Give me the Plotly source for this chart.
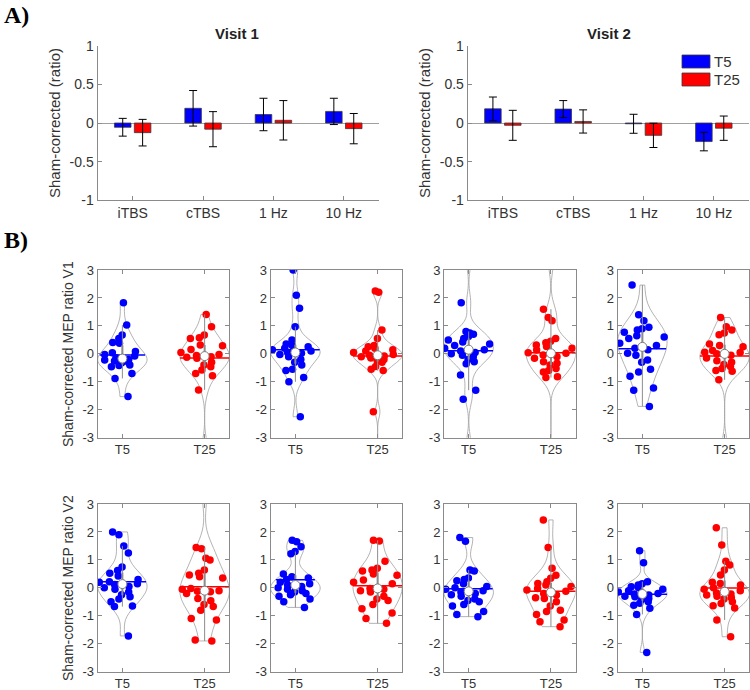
import numpy as np
import plotly.graph_objects as go

W, H = 750, 690

# ---------------- Panel A data (bar means and error bars) ----------------
methods = ["iTBS", "cTBS", "1 Hz", "10 Hz"]
v1_t5_mean = [-0.055, 0.19, 0.11, 0.15]
v1_t5_err = [0.115, 0.23, 0.21, 0.17]
v1_t25_mean = [-0.125, -0.08, 0.035, -0.073]
v1_t25_err = [0.172, 0.227, 0.255, 0.196]
v2_t5_mean = [0.183, 0.18, -0.01, -0.24]
v2_t5_err = [0.153, 0.11, 0.123, 0.12]
v2_t25_mean = [-0.03, 0.02, -0.16, -0.067]
v2_t25_err = [0.194, 0.15, 0.157, 0.157]

# ---------------- Panel B data (individual sham-corrected ratios) ----------------
# (a few values lie outside the visible -3..3 range; only their violin tails show)
v1_itbs_t5 = [1.83, 1.03, 0.67, 0.55, 0.41, 0.38, 0.08, 0.04, -0.02, -0.08, -0.14,
              -0.2, -0.22, -0.26, -0.3, -0.32, -0.4, -0.42, -0.46, -0.7, -0.88, -1.53]
v1_itbs_t25 = [1.41, 0.97, 0.67, 0.58, 0.55, 0.32, 0.29, 0.16, 0.05, -0.02, -0.06,
               -0.1, -0.12, -0.16, -0.3, -0.4, -0.46, -0.58, -0.7, -0.78, -1.29, -3.3]
v1_ctbs_t5 = [3.0, 2.1, 1.63, 0.97, 0.5, 0.35, 0.3, 0.25, 0.2, 0.15, 0.1, 0.05, 0.02,
              -0.02, -0.1, -0.2, -0.3, -0.4, -0.55, -0.6, -0.85, -1.0, -2.25]
v1_ctbs_t25 = [2.25, 2.2, 0.85, 0.55, 0.3, 0.25, 0.2, 0.15, 0.1, 0.05, -0.02, -0.05,
               -0.08, -0.1, -0.15, -0.2, -0.25, -0.3, -0.45, -0.55, -0.6, -2.07, -3.9]
v1_1hz_t5 = [3.3, 1.83, 0.8, 0.75, 0.7, 0.62, 0.55, 0.5, 0.42, 0.35, 0.3, 0.2, 0.15, 0.1,
             0.05, 0.0, -0.05, -0.1, -0.2, -0.28, -0.35, -0.76, -1.3, -1.62, -3.2]
v1_1hz_t25 = [3.2, 1.6, 1.3, 1.18, 0.55, 0.45, 0.4, 0.32, 0.26, 0.2, 0.14, 0.04, 0.02,
              -0.04, -0.1, -0.16, -0.28, -0.34, -0.4, -0.52, -0.6, -0.65, -0.82, -0.85, -4.0]
v1_10hz_t5 = [2.46, 1.4, 1.18, 0.95, 0.9, 0.85, 0.77, 0.65, 0.6, 0.55, 0.38, 0.3, 0.2,
              0.15, 0.02, -0.05, -0.22, -0.3, -0.55, -0.65, -0.8, -1.22, -1.3, -1.88]
v1_10hz_t25 = [1.3, 0.97, 0.85, 0.75, 0.68, 0.35, 0.3, 0.25, 0.12, 0.06, 0.05, 0.0,
               -0.05, -0.15, -0.25, -0.3, -0.38, -0.45, -0.52, -0.6, -0.62, -0.93, -3.2]

v2_itbs_t5 = [2.0, 1.9, 1.5, 1.25, 0.75, 0.62, 0.52, 0.42, 0.3, 0.22, 0.2, 0.15, 0.12,
              0.05, 0.0, -0.05, -0.15, -0.25, -0.32, -0.4, -0.5, -0.65, -0.67, -1.72]
v2_itbs_t25 = [3.3, 1.44, 1.4, 1.06, 1.0, 0.64, 0.52, 0.46, 0.4, 0.35, -0.1, -0.12, -0.02,
               -0.05, -0.14, -0.2, -0.38, -0.46, -0.6, -0.67, -0.8, -1.1, -1.15, -1.87, -1.9]
v2_ctbs_t5 = [1.7, 1.65, 1.47, 1.3, 1.22, 0.5, 0.4, 0.35, 0.3, 0.2, 0.15, 0.1, 0.05,
              0.0, -0.05, -0.1, -0.15, -0.2, -0.25, -0.3, -0.4, -0.5, -0.7]
v2_ctbs_t25 = [1.7, 1.68, 0.95, 0.7, 0.64, 0.6, 0.5, 0.45, 0.28, 0.2, 0.15, -0.02,
               -0.05, -0.1, -0.15, -0.3, -0.4, -0.45, -0.6, -0.75, -0.9, -1.1, -1.27]
v2_1hz_t5 = [1.8, 1.67, 0.64, 0.6, 0.35, 0.3, 0.25, 0.15, 0.05, 0.0, -0.05, -0.1,
             -0.15, -0.2, -0.25, -0.3, -0.4, -0.45, -0.5, -0.6, -0.65, -0.85, -0.95, -1.03]
v2_1hz_t25 = [2.43, 1.44, 0.7, 0.45, 0.34, 0.22, 0.16, 0.1, 0.05, -0.02, -0.08, -0.12,
              -0.2, -0.26, -0.35, -0.38, -0.5, -0.65, -0.8, -0.85, -0.95, -1.15, -1.21, -1.39]
v2_10hz_t5 = [1.33, 0.9, 0.22, 0.15, 0.1, 0.04, 0.0, -0.05, -0.1, -0.15, -0.2, -0.22,
              -0.26, -0.3, -0.32, -0.38, -0.42, -0.5, -0.55, -0.62, -0.73, -0.95, -2.31]
v2_10hz_t25 = [2.15, 1.53, 0.95, 0.82, 0.64, 0.46, 0.2, 0.16, 0.1, 0.0, -0.05, -0.1,
               -0.18, -0.22, -0.26, -0.3, -0.35, -0.4, -0.5, -0.56, -0.64, -0.72, -1.15, -1.75]

groups = ["T5", "T25"]
row1 = [(v1_itbs_t5, v1_itbs_t25), (v1_ctbs_t5, v1_ctbs_t25),
        (v1_1hz_t5, v1_1hz_t25), (v1_10hz_t5, v1_10hz_t25)]
row2 = [(v2_itbs_t5, v2_itbs_t25), (v2_ctbs_t5, v2_ctbs_t25),
        (v2_1hz_t5, v2_1hz_t25), (v2_10hz_t5, v2_10hz_t25)]

# ---------------- styling ----------------
BLUE = "#0000ff"
RED = "#ff0000"
AXC = "#8a8a8a"
TXT = "#333333"
FONT = "Liberation Sans"
VIOL = "#a0a0a0"
HALF = 0.3  # violin half width in data units


def xd(a, b):
    return [a / W, b / W]


def yd(top, bottom):
    return [1 - bottom / H, 1 - top / H]


def kde_half_width(arr, yv):
    """Half width of a width-scaled, hard-span violin (Silverman KDE as in plotly) at yv."""
    n = len(arr)
    q1, q3 = np.percentile(arr, [25, 75])
    ssd = arr.std(ddof=1)
    bw = 1.059 * min(ssd, (q3 - q1) / 1.349) * n ** -0.2
    lo, hi = arr.min(), arr.max()
    m = int(np.ceil((hi - lo) / (bw / 3)))
    grid = np.linspace(lo, hi, m + 1)

    def k(t):
        return np.exp(-0.5 * ((t[:, None] - arr[None, :]) / bw) ** 2).sum(axis=1)

    return HALF * k(np.array([yv]))[0] / k(grid).max()


fig = go.Figure()
layout = dict(
    width=W, height=H, margin=dict(l=0, r=0, t=0, b=0, autoexpand=False),
    paper_bgcolor="white", plot_bgcolor="white", showlegend=False,
    font=dict(family=FONT, color=TXT), violinmode="overlay",
    violingap=0, violingroupgap=0, barmode="overlay",
)

common = dict(showgrid=False, showline=True, linecolor=AXC, linewidth=1,
              ticks="inside", ticklen=4, tickcolor=AXC, tickwidth=1, automargin=False)

# ---- Panel A axes ----
for i, (xdom, mean5, err5, mean25, err25) in enumerate([
        (xd(97.5, 379), v1_t5_mean, v1_t5_err, v1_t25_mean, v1_t25_err),
        (xd(467.7, 749), v2_t5_mean, v2_t5_err, v2_t25_mean, v2_t25_err)]):
    n = i + 1
    xs = "x" if n == 1 else f"x{n}"
    ys = "y" if n == 1 else f"y{n}"
    layout["xaxis" if n == 1 else f"xaxis{n}"] = dict(
        common, domain=xdom, anchor=ys, type="category",
        categoryorder="array", categoryarray=methods, range=[-0.5, 3.5],
        zeroline=False, tickfont=dict(size=14, color=TXT))
    layout["yaxis" if n == 1 else f"yaxis{n}"] = dict(
        common, domain=yd(45.7, 200.3), anchor=xs, range=[-1, 1],
        tickvals=[-1, -0.5, 0, 0.5, 1], ticktext=["-1", "-0.5", "0", "0.5", "1"],
        zeroline=True, zerolinecolor="#a0a0a0", zerolinewidth=1,
        tickfont=dict(size=14, color=TXT))
    for mean, err, col, off in [(mean5, err5, BLUE, -0.259), (mean25, err25, RED, 0.0235)]:
        fig.add_trace(go.Bar(
            x=methods, y=mean, width=0.235, offset=off,
            marker=dict(color=col, line=dict(color="#3a3a3a", width=0.8)),
            error_y=dict(type="data", array=err, color="black", thickness=1, width=4),
            xaxis=xs, yaxis=ys, hoverinfo="skip"))

# ---- Panel B axes ----
lefts = [97.7, 270.7, 444.0, 617.7]
pw = 131.6
rows = [(row1, yd(270, 437.7)), (row2, yd(504, 671.7))]
ax = 3
for r, (rowdata, ydom) in enumerate(rows):
    for c, (d5, d25) in enumerate(rowdata):
        xs, ys = f"x{ax}", f"y{ax}"
        layout[f"xaxis{ax}"] = dict(
            common, mirror="ticks", domain=xd(lefts[c], lefts[c] + pw), anchor=ys,
            range=[0.7, 2.3], tickvals=[1, 2], ticktext=groups, zeroline=False,
            tickfont=dict(size=13, color=TXT))
        layout[f"yaxis{ax}"] = dict(
            common, mirror="ticks", domain=ydom, anchor=xs, range=[-3, 3],
            tickvals=[-3, -2, -1, 0, 1, 2, 3],
            ticktext=["-3", "-2", "-1", "0", "1", "2", "3"], zeroline=False,
            tickfont=dict(size=13, color=TXT))
        for pos, data, col in [(1, d5, BLUE), (2, d25, RED)]:
            arr = np.array(data, dtype=float)
            fig.add_trace(go.Violin(
                y=arr, x0=pos, width=2 * HALF, scalemode="width", spanmode="hard",
                line=dict(color=VIOL, width=0.8), fillcolor="rgba(0,0,0,0)",
                points="all", pointpos=0, jitter=1.0,
                marker=dict(color=col, size=7.5, line=dict(width=0)),
                meanline=dict(visible=False), box=dict(visible=False),
                xaxis=xs, yaxis=ys, hoverinfo="skip"))
            q1, q3 = np.percentile(arr, [25, 75])
            iqr = q3 - q1
            lo = arr[arr >= q1 - 1.5 * iqr].min()
            hi = arr[arr <= q3 + 1.5 * iqr].max()
            fig.add_trace(go.Scatter(x=[pos, pos], y=[lo, hi], mode="lines",
                                     line=dict(color="#8c8c8c", width=1),
                                     xaxis=xs, yaxis=ys, hoverinfo="skip"))
            fig.add_trace(go.Scatter(x=[pos, pos], y=[q1, q3], mode="lines",
                                     line=dict(color="#8c8c8c", width=2),
                                     xaxis=xs, yaxis=ys, hoverinfo="skip"))
            mu = arr.mean()
            hw = kde_half_width(arr, mu)
            fig.add_trace(go.Scatter(x=[pos - hw, pos + hw], y=[mu, mu], mode="lines",
                                     line=dict(color=col, width=1.5),
                                     xaxis=xs, yaxis=ys, hoverinfo="skip"))
            fig.add_trace(go.Scatter(x=[pos], y=[np.median(arr)], mode="markers",
                                     marker=dict(color="white", size=9,
                                                 line=dict(color="#7a7a7a", width=1)),
                                     xaxis=xs, yaxis=ys, hoverinfo="skip"))
        ax += 1

annotations = [
    dict(text="<b>A)</b>", x=2 / W, y=1 - 0 / H, xanchor="left", yanchor="top",
         font=dict(family="Liberation Serif", size=24, color="black")),
    dict(text="<b>B)</b>", x=2 / W, y=1 - 225 / H, xanchor="left", yanchor="top",
         font=dict(family="Liberation Serif", size=24, color="black")),
    dict(text="<b>Visit 1</b>", x=237 / W, y=1 - 34 / H, xanchor="center", yanchor="middle",
         font=dict(size=15, color="#222")),
    dict(text="<b>Visit 2</b>", x=609 / W, y=1 - 34 / H, xanchor="center", yanchor="middle",
         font=dict(size=15, color="#222")),
    dict(text="Sham-corrected (ratio)", x=55 / W, y=1 - 123 / H, textangle=-90,
         xanchor="center", yanchor="middle", font=dict(size=15, color=TXT)),
    dict(text="Sham-corrected (ratio)", x=425 / W, y=1 - 123 / H, textangle=-90,
         xanchor="center", yanchor="middle", font=dict(size=15, color=TXT)),
    dict(text="Sham-corrected MEP ratio V1", x=68 / W, y=1 - 354 / H, textangle=-90,
         xanchor="center", yanchor="middle", font=dict(size=14, color=TXT)),
    dict(text="Sham-corrected MEP ratio V2", x=68 / W, y=1 - 588 / H, textangle=-90,
         xanchor="center", yanchor="middle", font=dict(size=14, color=TXT)),
    dict(text="T5", x=712 / W, y=1 - 61.5 / H, xanchor="left", yanchor="middle",
         font=dict(size=15, color=TXT)),
    dict(text="T25", x=712 / W, y=1 - 79.5 / H, xanchor="left", yanchor="middle",
         font=dict(size=15, color=TXT)),
]
for a in annotations:
    a.update(xref="paper", yref="paper", showarrow=False)

shapes = [
    dict(type="rect", xref="paper", yref="paper", x0=682 / W, x1=710 / W,
         y0=1 - 68 / H, y1=1 - 55 / H, fillcolor=BLUE, line=dict(color="#3a3a3a", width=0.8)),
    dict(type="rect", xref="paper", yref="paper", x0=682 / W, x1=710 / W,
         y0=1 - 86 / H, y1=1 - 73 / H, fillcolor=RED, line=dict(color="#3a3a3a", width=0.8)),
]

layout["annotations"] = annotations
layout["shapes"] = shapes
fig.update_layout(**layout)
fig.write_html("out.html", config={"displayModeBar": False},
               post_script="document.body.style.margin='0';document.body.style.padding='0';"
                           "document.body.style.overflow='hidden';")
